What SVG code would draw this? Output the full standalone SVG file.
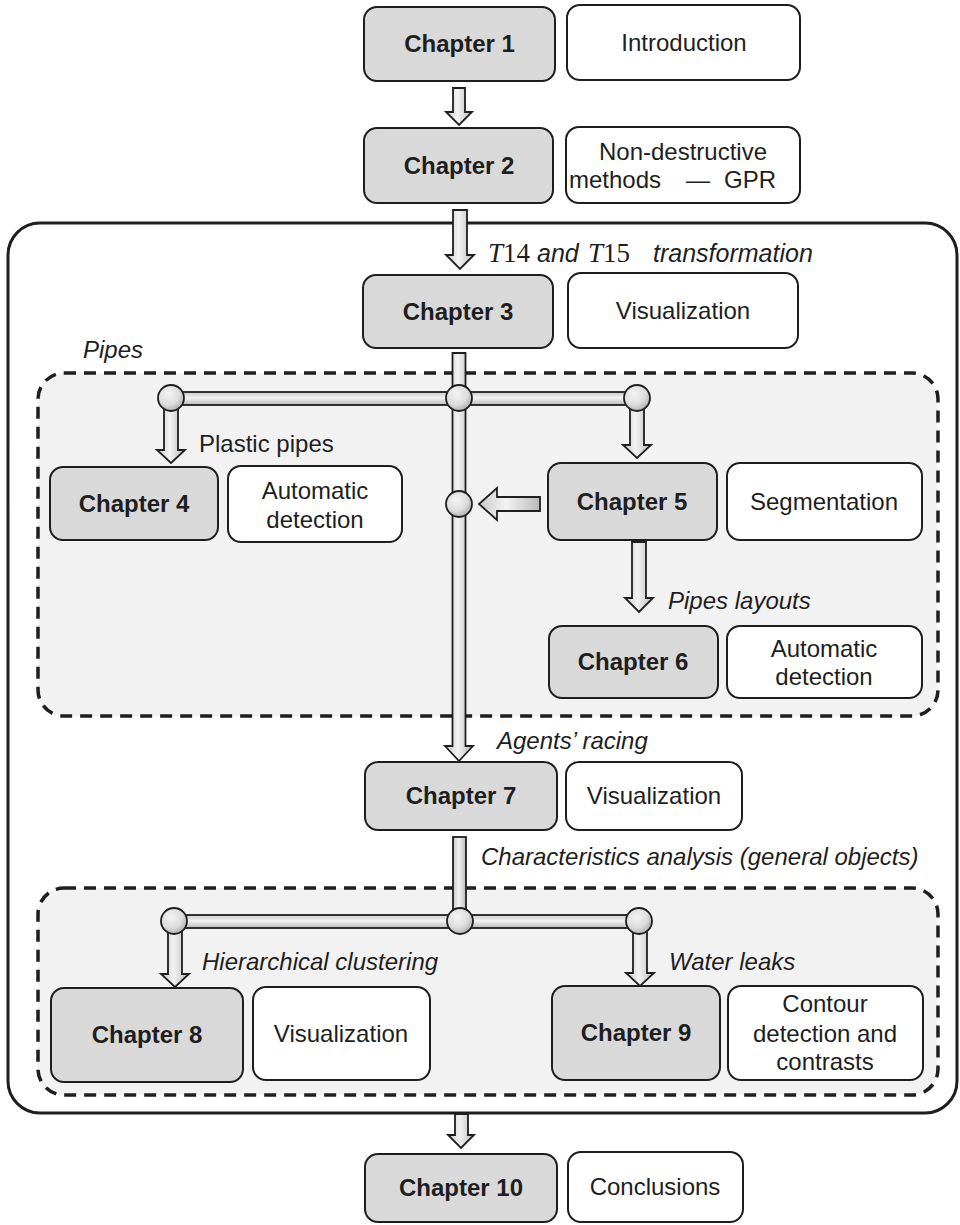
<svg xmlns="http://www.w3.org/2000/svg" width="960" height="1225" viewBox="0 0 960 1225">
  <defs>
    <linearGradient id="pipeV" x1="0" y1="0" x2="1" y2="0">
      <stop offset="0" stop-color="#c9c9c9"/>
      <stop offset="0.45" stop-color="#f2f2f2"/>
      <stop offset="1" stop-color="#b9b9b9"/>
    </linearGradient>
    <linearGradient id="pipeH" x1="0" y1="0" x2="0" y2="1">
      <stop offset="0" stop-color="#c9c9c9"/>
      <stop offset="0.45" stop-color="#f2f2f2"/>
      <stop offset="1" stop-color="#b9b9b9"/>
    </linearGradient>
    <radialGradient id="ball" cx="0.4" cy="0.35" r="0.7">
      <stop offset="0" stop-color="#f4f4f4"/>
      <stop offset="0.6" stop-color="#dcdcdc"/>
      <stop offset="1" stop-color="#a8a8a8"/>
    </radialGradient>
    <style>
      .chap rect { fill: #d9d9d9; stroke: #1e1e1e; stroke-width: 2; }
      .desc rect { fill: #ffffff; stroke: #1e1e1e; stroke-width: 2; }
      .chap text { font-family: "Liberation Sans", Arial, sans-serif; font-weight: bold; font-size: 24px; fill: #1e1e1e; text-anchor: middle; }
      .desc text { font-family: "Liberation Sans", Arial, sans-serif; font-size: 24px; fill: #1e1e1e; text-anchor: middle; }
      .lbl { font-family: "Liberation Sans", Arial, sans-serif; font-size: 24px; fill: #1e1e1e; }
      .it { font-style: italic; }
      .math { font-family: "Liberation Serif", "Times New Roman", serif; font-size: 27px; }
      .outer { fill: none; stroke: #1e1e1e; stroke-width: 3; }
      .group { fill: #f2f2f2; stroke: #1e1e1e; stroke-width: 3.5; stroke-dasharray: 12 8; }
      .pv { fill: url(#pipeV); stroke: #1e1e1e; stroke-width: 1.8; }
      .ph { fill: url(#pipeH); stroke: #1e1e1e; stroke-width: 1.8; }
      .ball { fill: url(#ball); stroke: #1e1e1e; stroke-width: 1.8; }
    </style>
  </defs>

  <!-- frame around chapters 3 to 9 -->
  <rect class="outer" x="8" y="223" width="949" height="890" rx="32"/>

  <!-- dashed groups -->
  <rect id="group-pipes" class="group" x="38" y="373" width="900" height="343" rx="26"/>
  <rect id="group-objects" class="group" x="38" y="888" width="900" height="207" rx="26"/>

  <!-- free labels -->
  <g id="labels">
    <text class="lbl" y="262" xml:space="preserve"><tspan class="math" x="488" font-style="italic">T</tspan><tspan class="math">14</tspan><tspan class="it" font-size="25px"> and </tspan><tspan class="math" x="588" font-style="italic">T</tspan><tspan class="math">15</tspan><tspan class="it" x="653" font-size="25px">transformation</tspan></text>
    <text class="lbl it" x="83" y="358">Pipes</text>
    <text class="lbl" x="199" y="452">Plastic pipes</text>
    <text class="lbl it" x="668" y="609">Pipes layouts</text>
    <text class="lbl it" x="497" y="749">Agents’ racing</text>
    <text class="lbl it" x="481" y="865">Characteristics analysis (general objects)</text>
    <text class="lbl it" x="202" y="970">Hierarchical clustering</text>
    <text class="lbl it" x="669" y="970">Water leaks</text>
  </g>

  <!-- connectors -->
  <g id="connectors">
    <!-- chapter 1 to 2 -->
    <path class="pv" d="M453,88 H465 V112 H472 L459,125 L446,112 H453 Z"/>
    <!-- chapter 2 to 3 -->
    <path class="pv" d="M453,210 H467 V255 H474 L460,269 L446,255 H453 Z"/>

    <!-- pipe network under chapter 3 -->
    <rect class="ph" x="172" y="392" width="465" height="13"/>
    <path class="pv" d="M452.5,353 H465.5 V746 H473 L459,761 L445,746 H452.5 Z"/>
    <path class="pv" d="M164,405 H178 V450 H185 L171,463 L157,450 H164 Z"/>
    <path class="pv" d="M630,405 H644 V445 H651 L637,458 L623,445 H630 Z"/>
    <circle class="ball" cx="171" cy="398" r="13"/>
    <circle class="ball" cx="459" cy="398" r="13"/>
    <circle class="ball" cx="637" cy="398" r="13"/>
    <!-- chapter 5 joins the main line -->
    <path class="pv" d="M540,497 V511 H497 V520 L479,504 L497,488 V497 Z"/>
    <circle class="ball" cx="459" cy="504" r="13"/>
    <!-- chapter 5 to 6 -->
    <path class="pv" d="M632,542 H646 V598 H653 L639,612 L625,598 H632 Z"/>

    <!-- pipe network under chapter 7 -->
    <rect class="ph" x="173" y="915" width="465" height="13"/>
    <rect class="pv" x="453" y="837" width="13" height="80"/>
    <path class="pv" d="M168,928 H182 V974 H189 L175,987 L161,974 H168 Z"/>
    <path class="pv" d="M633,928 H647 V973 H654 L640,986 L626,973 H633 Z"/>
    <circle class="ball" cx="174" cy="921" r="13"/>
    <circle class="ball" cx="460" cy="921" r="13"/>
    <circle class="ball" cx="639" cy="921" r="13"/>

    <!-- frame to chapter 10 -->
    <path class="pv" d="M455,1114 H468 V1135 H474 L461,1148 L448,1135 H455 Z"/>
  </g>

  <!-- nodes -->
  <g id="ch1" class="chap"><rect x="364" y="7" width="191" height="74" rx="13"/><text x="459.5" y="52">Chapter 1</text></g>
  <g id="d1" class="desc"><rect x="567" y="5" width="233" height="75" rx="13"/><text x="684" y="51">Introduction</text></g>

  <g id="ch2" class="chap"><rect x="364" y="128" width="189" height="75" rx="13"/><text x="459" y="174">Chapter 2</text></g>
  <g id="d2" class="desc"><rect x="566" y="127" width="234" height="76" rx="13"/><text x="683" y="160">Non-destructive</text><text y="188"><tspan x="569" text-anchor="start">methods</tspan><tspan x="686" text-anchor="start">—</tspan><tspan x="724" text-anchor="start">GPR</tspan></text></g>

  <g id="ch3" class="chap"><rect x="363" y="275" width="190" height="73" rx="13"/><text x="458" y="320">Chapter 3</text></g>
  <g id="d3" class="desc"><rect x="568" y="273" width="230" height="75" rx="13"/><text x="683" y="319">Visualization</text></g>

  <g id="ch4" class="chap"><rect x="50" y="467" width="168" height="73" rx="13"/><text x="134" y="512">Chapter 4</text></g>
  <g id="d4" class="desc"><rect x="228" y="466" width="174" height="76" rx="13"/><text x="315" y="499">Automatic</text><text x="315" y="528">detection</text></g>

  <g id="ch5" class="chap"><rect x="548" y="463" width="169" height="77" rx="13"/><text x="632" y="510">Chapter 5</text></g>
  <g id="d5" class="desc"><rect x="727" y="463" width="195" height="77" rx="13"/><text x="824" y="510">Segmentation</text></g>

  <g id="ch6" class="chap"><rect x="549" y="626" width="169" height="72" rx="13"/><text x="633" y="670">Chapter 6</text></g>
  <g id="d6" class="desc"><rect x="727" y="626" width="195" height="72" rx="13"/><text x="824" y="657">Automatic</text><text x="824" y="685">detection</text></g>

  <g id="ch7" class="chap"><rect x="365" y="762" width="192" height="68" rx="13"/><text x="461" y="804">Chapter 7</text></g>
  <g id="d7" class="desc"><rect x="566" y="762" width="176" height="68" rx="13"/><text x="654" y="804">Visualization</text></g>

  <g id="ch8" class="chap"><rect x="51" y="988" width="192" height="94" rx="13"/><text x="147" y="1043">Chapter 8</text></g>
  <g id="d8" class="desc"><rect x="253" y="987" width="177" height="93" rx="13"/><text x="341" y="1042">Visualization</text></g>

  <g id="ch9" class="chap"><rect x="552" y="986" width="168" height="94" rx="13"/><text x="636" y="1041">Chapter 9</text></g>
  <g id="d9" class="desc"><rect x="728" y="986" width="195" height="94" rx="13"/><text x="825" y="1012">Contour</text><text x="825" y="1042">detection and</text><text x="825" y="1070">contrasts</text></g>

  <g id="ch10" class="chap"><rect x="365" y="1154" width="192" height="68" rx="13"/><text x="461" y="1196">Chapter 10</text></g>
  <g id="d10" class="desc"><rect x="568" y="1152" width="175" height="70" rx="13"/><text x="655" y="1195">Conclusions</text></g>
</svg>
